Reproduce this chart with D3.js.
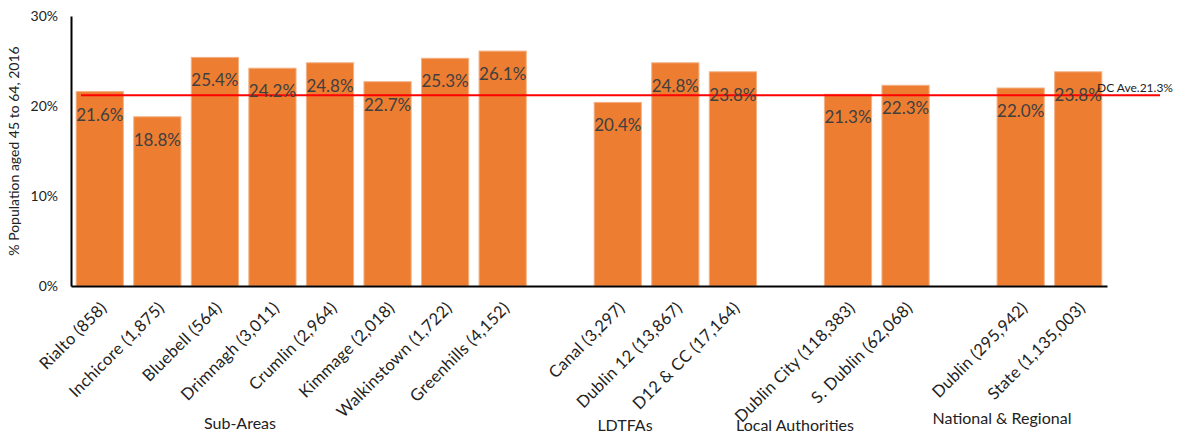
<!DOCTYPE html>
<html>
<head>
<meta charset="utf-8">
<script src="https://cdn.jsdelivr.net/npm/d3@7"></script>
<style>
  body { margin: 0; background: #fff; }
  svg { display: block; font-family: Lato, "Open Sans", sans-serif; }
</style>
</head>
<body>
<svg id="chart" width="1181" height="436"></svg>
<script>
// Areas grouped by level; one empty slot separates neighbouring groups
const groupNames = ["Sub-Areas", "LDTFAs", "Local Authorities", "National & Regional"];
const categories = [
  "Rialto (858)", "Inchicore (1,875)", "Bluebell (564)", "Drimnagh (3,011)",
  "Crumlin (2,964)", "Kimmage (2,018)", "Walkinstown (1,722)", "Greenhills (4,152)",
  "Canal (3,297)", "Dublin 12 (13,867)", "D12 & CC (17,164)",
  "Dublin City (118,383)", "S. Dublin (62,068)",
  "Dublin (295,942)", "State (1,135,003)"
];
const categoryGroup = [0, 0, 0, 0, 0, 0, 0, 0, 1, 1, 1, 2, 2, 3, 3];
const values = [21.6, 18.8, 25.4, 24.2, 24.8, 22.7, 25.3, 26.1, 20.4, 24.8, 23.8, 21.3, 22.3, 22.0, 23.8];
const yTicks = [0, 10, 20, 30];
const dcAverage = 21.3;
const dcLabel = "DC Ave.21.3%";
const yTitle = "% Population aged 45 to 64, 2016";

const svg = d3.select("#chart");
const m = { left: 71, right: 1107, top: 16, bottom: 286 };

// Band domain: categories with a spacer key between groups
const slots = [];
categories.forEach((c, i) => {
  if (i > 0 && categoryGroup[i] !== categoryGroup[i - 1]) slots.push("__gap" + i);
  slots.push(c);
});

const x = d3.scaleBand().domain(slots).range([m.left, m.right]).paddingInner(0.18).paddingOuter(0.09);
const y = d3.scaleLinear().domain([0, 30]).range([m.bottom, m.top]);

const data = categories.map((c, i) => ({ c, v: values[i], g: categoryGroup[i] }));

// Bars
svg.append("g").selectAll("rect").data(data).join("rect")
  .attr("x", d => x(d.c))
  .attr("y", d => y(d.v))
  .attr("width", x.bandwidth())
  .attr("height", d => y(0) - y(d.v))
  .attr("fill", "#ED7D31")
  .attr("stroke", "#F4B183")
  .attr("stroke-width", 1);

// Average reference line
svg.append("line")
  .attr("x1", 81).attr("x2", 1160)
  .attr("y1", y(dcAverage) + 1).attr("y2", y(dcAverage) + 1)
  .attr("stroke", "#FF0000").attr("stroke-width", 2);

// Value labels inside bar tops
svg.append("g").selectAll("text").data(data).join("text")
  .attr("x", d => x(d.c) + x.bandwidth() / 2)
  .attr("y", d => y(d.v) + 29)
  .attr("text-anchor", "middle")
  .attr("font-size", 17)
  .attr("fill", "#404040")
  .text(d => d.v.toFixed(1) + "%");

svg.append("text")
  .attr("x", 1097).attr("y", y(dcAverage) - 2)
  .attr("font-size", 12).attr("fill", "#222")
  .text(dcLabel);

// Y axis
const yAxis = d3.axisLeft(y).tickValues(yTicks).tickSize(0).tickPadding(13).tickFormat(d => d + "%");
const gy = svg.append("g").attr("transform", `translate(${m.left},0)`).call(yAxis);
gy.select(".domain").attr("stroke", "#000").attr("stroke-width", 2);
gy.selectAll("text").attr("font-size", 14).attr("fill", "#222").attr("font-family", "Lato, sans-serif");

// X axis
const xAxis = d3.axisBottom(x).tickValues(categories).tickSize(0).tickPadding(0);
const gx = svg.append("g").attr("transform", `translate(0,${m.bottom})`).call(xAxis);
gx.select(".domain").attr("stroke", "#000").attr("stroke-width", 2);
gx.selectAll("text")
  .attr("font-size", 16.5).attr("fill", "#222").attr("font-family", "Lato, sans-serif")
  .attr("letter-spacing", 0.3)
  .attr("text-anchor", "end")
  .attr("dy", 0)
  .attr("transform", "translate(8,23) rotate(-45)");

// Y axis title
svg.append("text")
  .attr("transform", `translate(19,${(m.top + m.bottom) / 2}) rotate(-90)`)
  .attr("text-anchor", "middle")
  .attr("font-size", 14).attr("fill", "#222")
  .text(yTitle);

// Group captions
const groupLabelPos = [
  { x: 240, y: 429 }, { x: 625, y: 431 }, { x: 795, y: 431 }, { x: 1002, y: 424 }
];
svg.append("g").selectAll("text").data(groupNames).join("text")
  .attr("x", (d, i) => groupLabelPos[i].x)
  .attr("y", (d, i) => groupLabelPos[i].y)
  .attr("text-anchor", "middle")
  .attr("font-size", 16).attr("fill", "#222")
  .text(d => d);
</script>
</body>
</html>
